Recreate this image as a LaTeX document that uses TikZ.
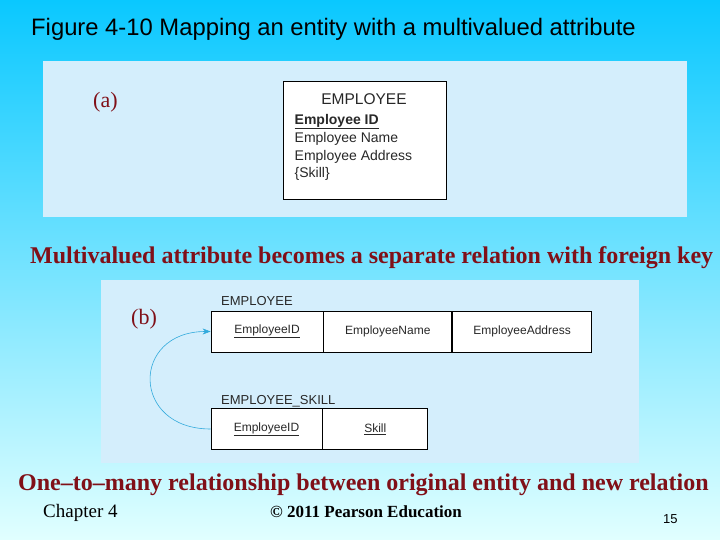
\documentclass[tikz,border=0pt]{standalone}
\usepackage{fontspec}
\setmainfont{Liberation Serif}
\setsansfont{Liberation Sans}
\usetikzlibrary{arrows.meta}

\definecolor{bgtop}{RGB}{10,200,255}
\definecolor{bgmid}{RGB}{140,222,252}
\definecolor{bgbot}{RGB}{225,255,255}
\definecolor{panelfill}{RGB}{212,238,252}
\definecolor{slidered}{RGB}{128,16,24}
\definecolor{linkblue}{RGB}{50,170,220}
\definecolor{ertext}{RGB}{40,40,40}

\newcommand{\pkey}[1]{\underline{#1}}

\tikzset{
  txt/.style={anchor=base west, inner sep=0},
  caption/.style={txt, text=slidered, font=\bfseries\fontsize{24}{26}\selectfont},
  partlabel/.style={txt, text=slidered, font=\fontsize{22}{24}\selectfont},
  entattr/.style={txt, text=ertext, font=\sffamily\fontsize{14}{16}\selectfont},
  relname/.style={txt, text=ertext, font=\sffamily\fontsize{13}{15}\selectfont},
  cell/.style={draw=black, fill=white, line width=0.8, inner sep=0, minimum height=41,
    text=ertext, font=\sffamily\fontsize{12}{14}\selectfont},
  fklink/.style={linkblue, line width=0.6, -{Stealth[length=8,width=6]}}
}

\begin{document}
\begin{tikzpicture}[x=1pt, y=-1pt]
	\useasboundingbox (0, 0) rectangle (720, 540);
	\shade[top color=bgtop, middle color=bgmid, bottom color=bgbot] (0, 0) rectangle (720, 540);
	\node[txt, font=\sffamily\fontsize{23.8}{26}\selectfont] (title) at (31, 36) {Figure 4-10 Mapping an entity with a multivalued attribute};
%%%%%%%%%%%
	\fill[panelfill] (43, 61) rectangle (687, 217);
	\node[partlabel] (parta) at (93, 108) {(a)};
	\node[draw=black, fill=white, line width=0.9, minimum width=163, minimum height=118, inner sep=0] (ent) at (364.5, 140) {};
	\node[entattr, anchor=base, font=\sffamily\fontsize{15.5}{16}\selectfont] (entname) at (364, 105) {EMPLOYEE};
	\node[entattr, font=\sffamily\bfseries\fontsize{14}{16}\selectfont] (attrid) at (294.5, 125) {Employee ID};
	\draw[ertext, line width=1.1] ([yshift=-3.5]attrid.base west) -- ([yshift=-3.5]attrid.base east);
	\node[entattr] (attrname) at (294.5, 143) {Employee Name};
	\node[entattr] (attraddr) at (294.5, 161) {Employee Address};
	\node[entattr] (attrskill) at (294.5, 178) {\{Skill\}};
%%%%%%%%%%%
	\node[caption] (capa) at (30, 263) {Multivalued attribute becomes a separate relation with foreign key};
%%%%%%%%%%%
	\fill[panelfill] (101, 280) rectangle (639, 463);
	\node[partlabel] (partb) at (131, 324) {(b)};
	\node[relname] (relemp) at (221, 305) {EMPLOYEE};
	\node[cell, minimum width=112] (eid) at (267, 331.5) {\pkey{EmployeeID}};
	\node[cell, minimum width=128, anchor=west] (ename) at (eid.east) {EmployeeName};
	\node[cell, minimum width=139, anchor=west] (eaddr) at (ename.east) {EmployeeAddress};
	\node[relname] (relskill) at (221, 404) {EMPLOYEE\_SKILL};
	\node[cell, minimum width=111] (sid) at (266.5, 429) {\pkey{EmployeeID}};
	\node[cell, minimum width=105, anchor=west] (sskill) at (sid.east) {\pkey{Skill}};
	\draw[fklink] (sid.west) to[out=180, in=180, looseness=2.1] (eid.west);
%%%%%%%%%%%
	\node[caption] (capb) at (18, 490) {One–to–many relationship between original entity and new relation};
	\node[txt, font=\fontsize{19}{21}\selectfont] (chapter) at (43, 517) {Chapter 4};
	\node[txt, font=\bfseries\fontsize{17}{20}\selectfont] (copy) at (270, 517) {© 2011 Pearson Education};
	\node[txt, font=\sffamily\fontsize{13}{15}\selectfont] (pagenum) at (663, 523) {15};
\end{tikzpicture}
\end{document}
